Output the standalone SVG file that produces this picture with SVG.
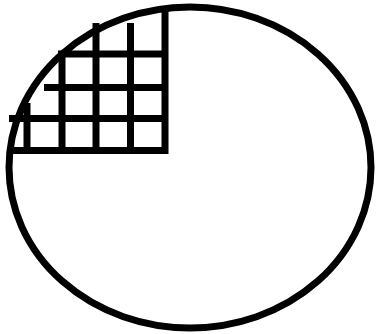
<svg xmlns="http://www.w3.org/2000/svg" width="379" height="334" viewBox="0 0 379 334">
<style>
.s{fill:none;stroke:#000;stroke-width:7}
</style>
<rect width="379" height="334" fill="#fff"/>
<g id="ellipse">
<ellipse class="s" cx="190" cy="167.5" rx="181" ry="160.5"/>
</g>
<g id="grid">
<line class="s" x1="165" y1="9" x2="165" y2="154"/>
<line class="s" x1="13" y1="150.5" x2="165" y2="150.5"/>
<line class="s" x1="58" y1="54" x2="165" y2="54"/>
<line class="s" x1="44" y1="87.5" x2="165" y2="87.5"/>
<line class="s" x1="9" y1="118.5" x2="165" y2="118.5"/>
<line class="s" x1="27" y1="103" x2="27" y2="150"/>
<line class="s" x1="62" y1="52" x2="62" y2="150"/>
<line class="s" x1="96" y1="23" x2="96" y2="150"/>
<line class="s" x1="130.5" y1="23" x2="130.5" y2="150"/>
</g>
</svg>
